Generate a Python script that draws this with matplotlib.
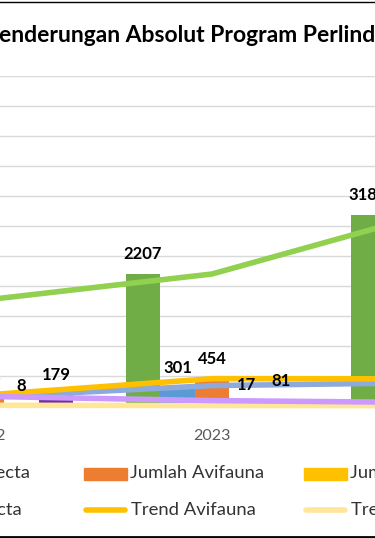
import matplotlib
matplotlib.use("Agg")
import matplotlib.pyplot as plt
from matplotlib.lines import Line2D
from matplotlib.patches import Rectangle
import numpy as np

plt.rcParams['font.family'] = ['Lato', 'DejaVu Sans']

# data (values outside the visible crop are estimates)
years = ["2022", "2023", "2024"]
bar_names = ["Jumlah Flora", "Jumlah Insecta", "Jumlah Avifauna",
             "Jumlah Mamalia", "Jumlah Herpetofauna"]
flora = [1510, 2207, 3183]
insecta = [120, 301, 410]
avifauna = [133, 454, 470]
mamalia = [8, 17, 25]
herpeto = [179, 81, 60]

trend_names = ["Trend Flora", "Trend Insecta", "Trend Avifauna",
               "Trend Mamalia", "Trend Herpetofauna"]
trend_flora = [1770, 2200, 3245]
trend_insecta = [150, 340, 390]
trend_avifauna = [185, 455, 452]
trend_mamalia = [12, 8, 5]
trend_herpeto = [160, 90, 58]

bar_colors = ["#70AD47", "#5B9BD5", "#ED7D31", "#FFC000", "#7030A0"]
trend_colors = ["#92D050", "#8EA9DB", "#FFC000", "#FFE699", "#CC99FF"]

W, H = 375, 538
fig = plt.figure(figsize=(W / 100, H / 100), dpi=100)


def fx(px):
    return px / W


def fy(py):
    return 1 - py / H


# the plot area is wider than the visible window
left_px, right_px = -125.5, 549.5
top_px, base_px = 76, 406
ax = fig.add_axes([fx(left_px), fy(base_px),
                   (right_px - left_px) / W, (base_px - top_px) / H])

x = np.arange(len(years))
bw = 34.5 / 225
bar_series = [flora, insecta, avifauna, mamalia, herpeto]
for i, vals in enumerate(bar_series):
    pos = x + (i - 2) * bw
    ax.bar(pos, vals, bw, color=bar_colors[i], zorder=2)
    for xp, v in zip(pos, vals):
        ax.annotate(str(v), (xp, v), xytext=(0, 10.8),
                    textcoords="offset points", ha="center", va="baseline",
                    fontsize=12, fontweight="bold", color="black", zorder=5)

trend_series = [trend_flora, trend_insecta, trend_avifauna,
                trend_mamalia, trend_herpeto]
for i, vals in enumerate(trend_series):
    ax.plot(x, vals, color=trend_colors[i], lw=4, clip_on=False,
            solid_joinstyle="round", zorder=3)

ax.set_xlim(-0.5, len(years) - 0.5)
ax.set_ylim(0, 5500)
ax.set_yticks(np.arange(0, 5501, 500))
ax.yaxis.grid(True, color="#D9D9D9", lw=1)
ax.set_axisbelow(True)
ax.tick_params(left=False, labelleft=False, bottom=False)
ax.set_xticks(x, years)
ax.tick_params(axis="x", labelsize=11.5, labelcolor="#595959", pad=13)
for s in ax.spines.values():
    s.set_visible(False)

# legend laid out like Excel: equal column widths
col_w = 220
x0 = 84 - 2 * col_w
for i in range(len(bar_names)):
    cx = x0 + i * col_w
    fig.add_artist(Rectangle((fx(cx), fy(480)), 43 / W, 12 / H,
                             color=bar_colors[i]))
    fig.text(fx(cx + 46), fy(473), bar_names[i], fontsize=13.3,
             color="#333333", va="center", ha="left")
    fig.add_artist(Line2D([fx(cx + 2), fx(cx + 41)], [fy(510)] * 2,
                          color=trend_colors[i], lw=4,
                          solid_capstyle="round"))
    fig.text(fx(cx + 47), fy(510), trend_names[i], fontsize=13.3,
             color="#333333", va="center", ha="left")

# title, partly outside the visible window
title = "Kecenderungan Absolut Program Perlindungan Keanekaragaman Hayati"
tkw = dict(fontsize=16.5, fontweight="bold", color="black", va="center")
fig.canvas.draw()
r = fig.canvas.get_renderer()
p1 = fig.text(0, 0, "Kecenderungan A", **tkw)
p2 = fig.text(0, 0, "A", **tkw)
shift = p1.get_window_extent(r).width - p2.get_window_extent(r).width
p1.remove()
p2.remove()
fig.text(fx(126 - shift), fy(35), title, **tkw)

# chart border
fig.add_artist(Line2D([0, 1], [fy(2)] * 2, color="black", lw=1))
fig.add_artist(Line2D([0, 1], [fy(536.5)] * 2, color="black", lw=2))

fig.savefig("out.png", dpi=100)
